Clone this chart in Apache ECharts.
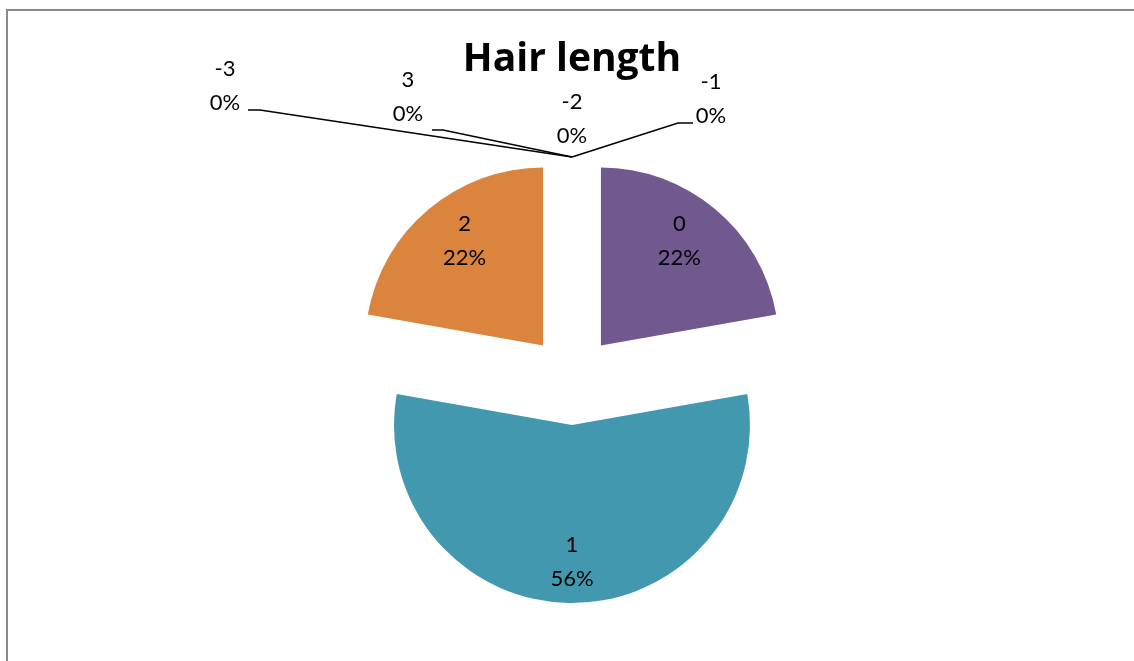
<!DOCTYPE html>
<html><head><meta charset="utf-8">
<script src="https://cdn.jsdelivr.net/npm/echarts@6/dist/echarts.min.js"></script>
<style>html,body{margin:0;padding:0;background:#fff}#c{width:1134px;height:661px}</style>
</head><body><div id="c"></div>
<script>
// ---- data ----
const titleText = 'Hair length';
const categories = ['-3', '-2', '-1', '0', '1', '2', '3'];
const counts = [0, 0, 0, 2, 5, 2, 0];
const sliceColors = ['#4F81BD', '#C0504D', '#9BBB59', '#71588F', '#4198AF', '#DB843D', '#4F81BD'];

// ---- layout / style ----
const CX = 572, CY = 380, R = 178, OFF = 45;
const FONT = 'Lato';
const SHIFT_X = 30, SHIFT_Y = 45; // extra outward push of the in-slice labels
// placement of the labels of empty slices, relative to the slice tip
const zeroPlace = {
  '-3': { label: [-347, -71], knee: [-312, -47], end: [-324, -47] },
  '3':  { label: [-164, -60], knee: [-129, -27], end: [-140, -27] },
  '-2': { label: [0, -38],    knee: [0, 0],      end: [0, 0] },
  '-1': { label: [139, -58],  knee: [106, -34],  end: [121, -34] }
};

const total = counts.reduce((a, b) => a + b, 0);
const starts = [];
counts.reduce((acc, v, i) => { starts[i] = acc; return acc + v; }, 0);

const textStyle = { fontFamily: FONT, fontSize: 22, lineHeight: 34, color: '#000' };

const seriesData = categories.map((c, i) => {
  const zero = counts[i] === 0;
  const item = {
    name: c,
    value: counts[i],
    selected: !zero,
    itemStyle: { color: sliceColors[i] },
    label: { position: zero ? 'outside' : 'inside' },
    labelLine: { show: zero }
  };
  if (!zero) {
    const mid = (starts[i] + counts[i] / 2) / total * Math.PI * 2;
    const sx = Math.sin(mid) * SHIFT_X;
    const sy = -Math.cos(mid) * SHIFT_Y;
    const gapTop = Math.max(0, 2 * sy), gapBottom = Math.max(0, -2 * sy);
    item.label.padding = [0, Math.max(0, -2 * sx), 0, Math.max(0, 2 * sx)];
    item.label.rich = {
      t: textStyle,
      gt: { fontSize: 1, lineHeight: gapTop, height: gapTop },
      gb: { fontSize: 1, lineHeight: gapBottom, height: gapBottom }
    };
    item.label.formatter = p => {
      let s = '{t|' + p.name + '}\n{t|' + Math.round(p.percent) + '%}';
      if (gapTop > 0) s = '{gt| }\n' + s;
      if (gapBottom > 0) s = s + '\n{gb| }';
      return s;
    };
  }
  return item;
});

const chart = echarts.init(document.getElementById('c'), null, { renderer: 'canvas' });
chart.setOption({
  animation: false,
  backgroundColor: '#ffffff',
  title: {
    text: titleText,
    left: 572,
    textAlign: 'center',
    top: 36,
    padding: 0,
    textStyle: { fontFamily: 'Open Sans', fontWeight: 'bold', fontSize: 39, lineHeight: 48, color: '#000' }
  },
  graphic: [{
    type: 'rect',
    shape: { x: 7, y: 10, width: 1300, height: 900 },
    style: { fill: 'none', stroke: '#8a8a8a', lineWidth: 2 },
    silent: true
  }],
  series: [{
    type: 'pie',
    center: [CX, CY],
    radius: [0, R],
    startAngle: 90,
    clockwise: true,
    selectedMode: 'multiple',
    selectedOffset: OFF,
    avoidLabelOverlap: false,
    minShowLabelAngle: 0,
    itemStyle: { borderWidth: 0 },
    emphasis: { disabled: true },
    label: Object.assign({
      show: true,
      align: 'center',
      formatter: p => p.name + '\n' + Math.round(p.percent) + '%'
    }, textStyle),
    labelLine: {
      lineStyle: { color: '#000', width: 1.5 },
      length: 10,
      length2: 10
    },
    labelLayout: function (p) {
      const i = p.dataIndex;
      if (counts[i] !== 0) return;
      const pl = zeroPlace[categories[i]];
      const a = p.labelLinePoints ? p.labelLinePoints[0] : [CX, CY - R];
      const P = [a[0], a[1] - OFF];
      return {
        x: P[0] + pl.label[0],
        y: P[1] + pl.label[1],
        align: 'center',
        verticalAlign: 'middle',
        labelLinePoints: [
          P,
          [P[0] + pl.knee[0], P[1] + pl.knee[1]],
          [P[0] + pl.end[0], P[1] + pl.end[1]]
        ]
      };
    },
    data: seriesData
  }]
});
</script>
</body></html>
